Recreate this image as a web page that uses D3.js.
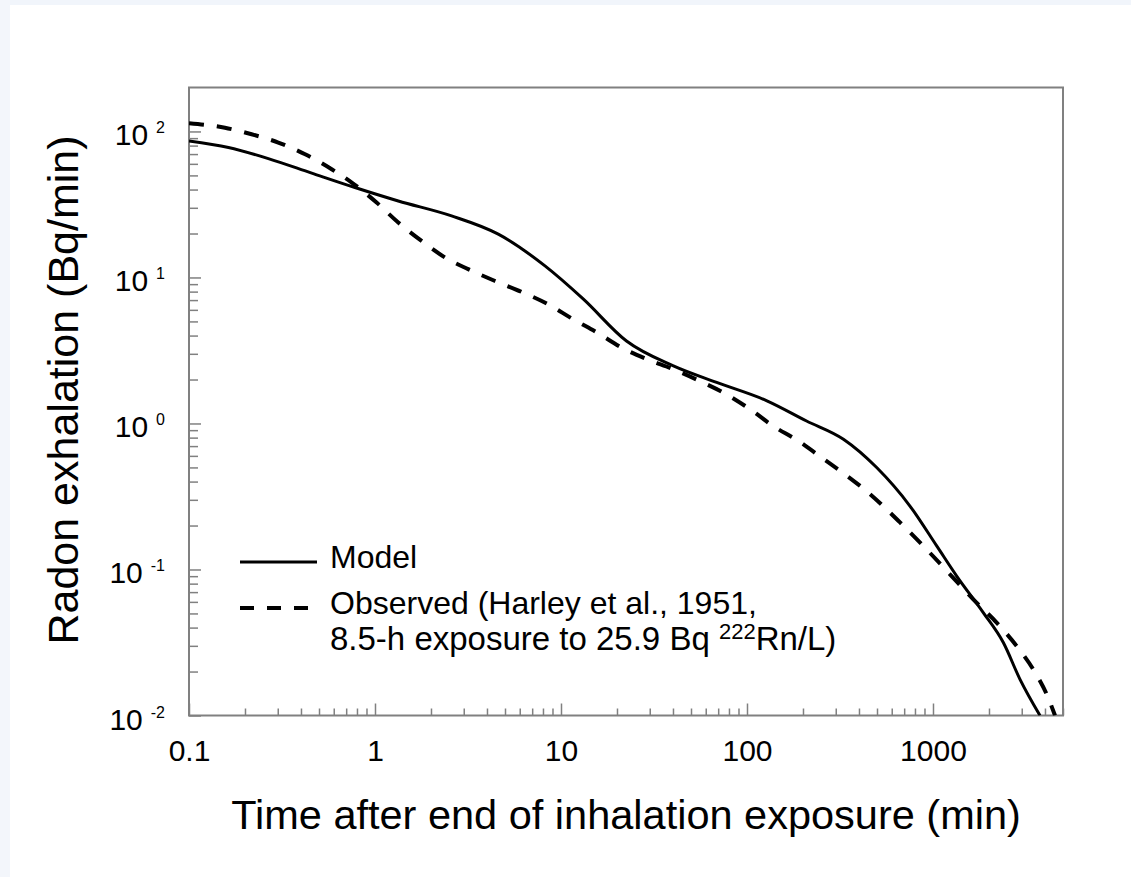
<!DOCTYPE html>
<html>
<head>
<meta charset="utf-8">
<script src="https://cdn.jsdelivr.net/npm/d3@7"></script>
<style>
  body { margin: 0; background: #fff; }
  text { font-family: "Liberation Sans", Arial, sans-serif; fill: #000; }
</style>
</head>
<body>
<div id="chart"></div>
<script>

// model curve
var modelTime  = [0.1, 0.163, 0.267, 0.457, 0.78, 1.334, 2.58, 4.6, 8.2, 13.2, 22.5, 40.2,
                  68.7, 128, 209, 330, 498, 752, 1047, 1341, 1863, 2388, 2936, 3760];
var modelValue = [86, 77.6, 65.2, 51.8, 41.3, 33.4, 26.4, 19.8, 12.0, 7.1, 3.67, 2.48,
                  1.91, 1.43, 1.04, 0.78, 0.499, 0.272, 0.145, 0.0902, 0.0507, 0.0316, 0.0177, 0.01];

// observed curve (Harley et al., 1951)
var observedTime  = [0.1, 0.156, 0.217, 0.302, 0.421, 0.585, 0.75, 1.02, 1.334, 1.78, 2.38, 3.17,
                     4.42, 6.15, 8.55, 11.6, 15.6, 21.2, 28.9, 40.2, 55.9, 77.8, 104, 138, 189,
                     252, 336, 449, 665, 887, 1234, 1647, 2199, 2818, 3459, 4084, 4530];
var observedValue = [114, 106, 95.7, 84, 69.8, 55.1, 44.7, 32.6, 23.8, 17.8, 13.7, 11.4,
                     9.46, 7.96, 6.54, 5.18, 4.2, 3.31, 2.76, 2.35, 1.95, 1.58, 1.25, 0.962, 0.759,
                     0.583, 0.449, 0.336, 0.21, 0.145, 0.0927, 0.0625, 0.0433, 0.0299, 0.0207, 0.014, 0.01];

var xTickValues = [0.1, 1, 10, 100, 1000];
var xTickLabels = ["0.1", "1", "10", "100", "1000"];
var yTickValues = [100, 10, 1, 0.1, 0.01];
var yTickExps   = ["2", "1", "0", "-1", "-2"];

var legendLabels = ["Model", "Observed (Harley et al., 1951,"];

var W = 1131, H = 877;
var box = { left: 189, right: 1063, top: 87.5, bottom: 715.5 };

var svg = d3.select("#chart").append("svg")
    .attr("width", W).attr("height", H);

// page background strips
svg.append("rect").attr("x", 0).attr("y", 0).attr("width", W).attr("height", 5).attr("fill", "#f1f5fb");
svg.append("rect").attr("x", 0).attr("y", 0).attr("width", 10).attr("height", H).attr("fill", "#f3f6fb");

var x = d3.scaleLog().domain([0.1, 5000]).range([box.left, box.right]);
var y = d3.scaleLog().domain([0.01, 200]).range([box.bottom, box.top]);

function isMajor(v) {
	var l = Math.log10(v);
	return Math.abs(l - Math.round(l)) < 1e-9;
}

// minor + major ticks, pointing inward
var xMinor = x.ticks().filter(function(v) { return !isMajor(v); });
var yMinor = y.ticks().filter(function(v) { return !isMajor(v) && v < 200; });

function tickAxis(g) {
	g.select(".domain").remove();
	g.selectAll("line").attr("stroke", "#808080").attr("stroke-width", 1.5);
}

svg.append("g")
	.attr("transform", "translate(0," + box.bottom + ")")
	.call(d3.axisBottom(x).tickValues(xMinor).tickSize(-7).tickFormat(""))
	.call(tickAxis);

svg.append("g")
	.attr("transform", "translate(0," + box.bottom + ")")
	.call(d3.axisBottom(x).tickValues(xTickValues).tickSize(-12).tickPadding(24)
		.tickFormat(function(d, i) { return xTickLabels[i]; }))
	.call(tickAxis)
	.call(function(g) {
		g.attr("font-size", null).attr("font-family", null);
		g.selectAll("text").style("font-size", "30px").attr("fill", "#000");
	});

svg.append("g")
	.attr("transform", "translate(" + box.left + ",0)")
	.call(d3.axisLeft(y).tickValues(yMinor).tickSize(-9).tickFormat(""))
	.call(tickAxis);

svg.append("g")
	.attr("transform", "translate(" + box.left + ",0)")
	.call(d3.axisLeft(y).tickValues(yTickValues).tickSize(-12).tickFormat(""))
	.call(tickAxis);

// y tick labels: 10 with superscript exponent
var ylab = svg.append("g").selectAll("text")
	.data(yTickValues)
	.enter()
	.append("text")
	.attr("text-anchor", "end")
	.attr("x", 165)
	.attr("y", function(d) { return y(d) + 14; })
	.style("font-size", "30px");
ylab.append("tspan").text("10");
ylab.append("tspan")
	.attr("dx", 8)
	.attr("dy", -12)
	.style("font-size", "16px")
	.text(function(d, i) { return yTickExps[i]; });

// plot frame
svg.append("rect")
	.attr("x", box.left).attr("y", box.top)
	.attr("width", box.right - box.left).attr("height", box.bottom - box.top)
	.attr("fill", "none").attr("stroke", "#808080").attr("stroke-width", 2);

svg.append("clipPath").attr("id", "clip")
	.append("rect")
	.attr("x", box.left).attr("y", box.top)
	.attr("width", box.right - box.left).attr("height", box.bottom - box.top);

var line = d3.line()
	.x(function(d) { return x(d[0]); })
	.y(function(d) { return y(d[1]); })
	.curve(d3.curveMonotoneX);

var curves = svg.append("g").attr("clip-path", "url(#clip)");

curves.append("path")
	.datum(d3.zip(modelTime, modelValue))
	.attr("d", line)
	.attr("fill", "none").attr("stroke", "#000").attr("stroke-width", 3);

curves.append("path")
	.datum(d3.zip(observedTime, observedValue))
	.attr("d", line)
	.attr("fill", "none").attr("stroke", "#000").attr("stroke-width", 4)
	.attr("stroke-dasharray", "15,13");

// legend
var legend = svg.append("g");
legend.append("line")
	.attr("x1", 240).attr("x2", 317).attr("y1", 562).attr("y2", 562)
	.attr("stroke", "#000").attr("stroke-width", 3);
legend.append("line")
	.attr("x1", 240).attr("x2", 312).attr("y1", 608).attr("y2", 608)
	.attr("stroke", "#000").attr("stroke-width", 4).attr("stroke-dasharray", "14,13");

legend.append("text").attr("x", 330).attr("y", 568).style("font-size", "32px").text(legendLabels[0]);
legend.append("text").attr("x", 330).attr("y", 614).style("font-size", "32px").text(legendLabels[1]);
var l3 = legend.append("text").attr("x", 330).attr("y", 650).style("font-size", "33px");
l3.append("tspan").text("8.5-h exposure to 25.9 Bq ");
l3.append("tspan").attr("dy", -11).style("font-size", "22px").text("222");
l3.append("tspan").attr("dy", 11).text("Rn/L)");

// axis titles
svg.append("text")
	.attr("x", (box.left + box.right) / 2)
	.attr("y", 829)
	.attr("text-anchor", "middle")
	.style("font-size", "41.5px")
	.text("Time after end of inhalation exposure (min)");

svg.append("text")
	.attr("transform", "translate(78,390) rotate(-90)")
	.attr("text-anchor", "middle")
	.style("font-size", "43px")
	.text("Radon exhalation (Bq/min)");

</script>
</body>
</html>
